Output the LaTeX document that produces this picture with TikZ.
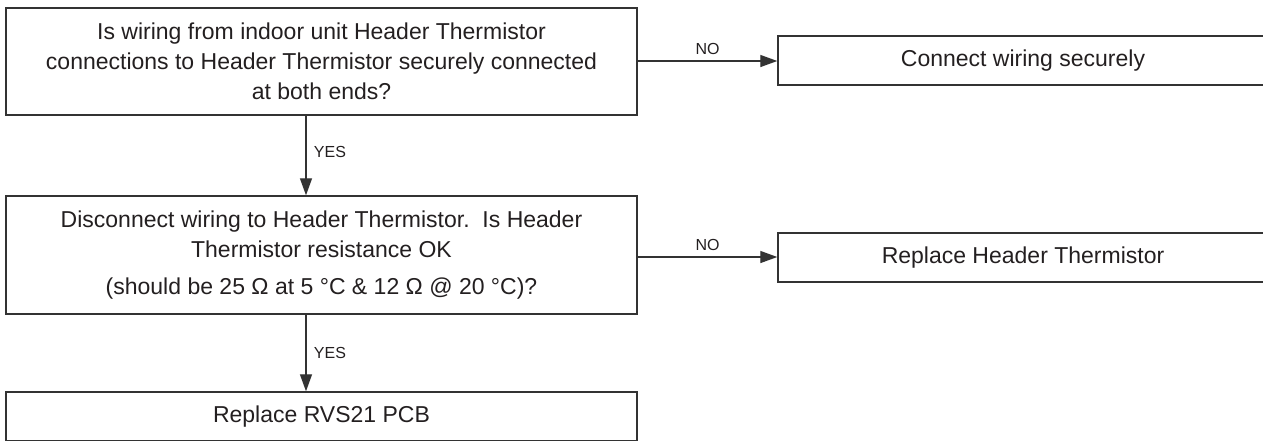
\documentclass[tikz,border=0pt]{standalone}
\usepackage{fontspec}
\setmainfont{Liberation Sans}
\usetikzlibrary{positioning, arrows.meta, calc}
\definecolor{lineagris}{RGB}{51, 51, 51}
\definecolor{textogris}{RGB}{35, 31, 32}
\tikzset{
  pregunta/.style={rectangle, draw=lineagris, line width=1.4pt, minimum width=631pt, inner sep=0pt, align=center, text=textogris, font=\fontsize{23}{30}\selectfont},
  accion/.style={rectangle, draw=lineagris, line width=1.4pt, minimum width=490pt, minimum height=49pt, inner sep=0pt, align=center, text=textogris, font=\fontsize{23}{30}\selectfont},
  flecha/.style={line width=1.3pt, draw=lineagris, -{Triangle[length=17pt, width=12pt]}},
  etiqueta/.style={font=\fontsize{16}{18}\selectfont, text=textogris}
}

\begin{document}
\begin{tikzpicture}[x=1pt, y=-1pt]
        % Marco fijo del dibujo
        \useasboundingbox (0,0) rectangle (1263,440);
        \clip (0,0) rectangle (1263,440);

        % Preguntas y acciones
        \node (q1) [pregunta, minimum height=107pt] at (321.5,61.5) {Is wiring from indoor unit Header Thermistor\\connections to Header Thermistor securely connected\\at both ends?};
        \node (a1) [accion] at (1023,60.5) {Connect wiring securely};
        \node (q2) [pregunta, minimum height=118pt] at (321.5,255) {Disconnect wiring to Header Thermistor.~~Is Header\\Thermistor resistance OK\\[7pt](should be 25 Ω at 5 °C \& 12 Ω @ 20 °C)?};
        \node (a2) [accion] at (1023,257.5) {Replace Header Thermistor};
        \node (a3) [pregunta, minimum height=49pt] at (321.5,416.5) {Replace RVS21 PCB};

        % Eje de las flechas verticales
        \coordinate (eje) at (306,0);

        % Flechas con sus etiquetas
        \draw [flecha] (q1.east |- 0,61) -- (a1.west |- 0,61) node [midway, above=2pt, etiqueta] {NO};
        \draw [flecha] (q2.east |- 0,257) -- (a2.west |- 0,257) node [midway, above=2pt, etiqueta] {NO};
        \draw [flecha] (q1.south -| eje) -- (q2.north -| eje) node [pos=0.45, right=4pt, etiqueta] {YES};
        \draw [flecha] (q2.south -| eje) -- (a3.north -| eje) node [midway, right=4pt, etiqueta] {YES};
    \end{tikzpicture}
\end{document}
